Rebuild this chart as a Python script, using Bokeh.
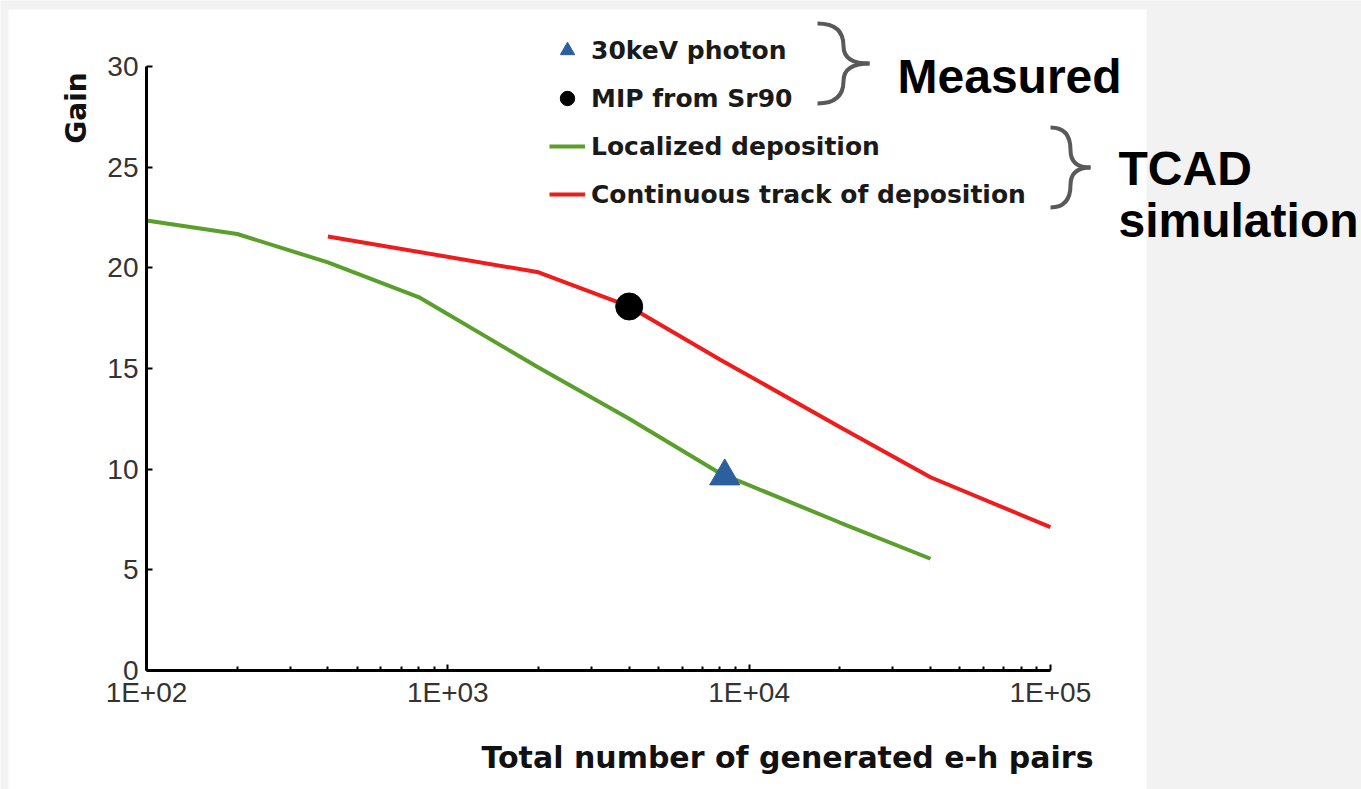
import math
from bokeh.plotting import figure
from bokeh.models import Range1d, FixedTicker, Legend, LegendItem
from bokeh.embed import file_html
from bokeh.resources import INLINE
from bokeh.core.properties import value

# ---------------- data ----------------
localized_pairs = [100, 200, 400, 800, 2000, 4000, 8000, 20000, 40000]
localized_gain = [22.35, 21.68, 20.27, 18.55, 15.05, 12.5, 9.8, 7.35, 5.55]
continuous_pairs = [400, 2000, 4000, 8000, 20000, 40000, 100000]
continuous_gain = [21.56, 19.78, 18.08, 15.45, 12.1, 9.6, 7.12]
photon_pairs = [8300]
photon_gain = [9.65]
mip_pairs = [4000]
mip_gain = [18.08]

x_ticks = [100, 1000, 10000, 100000]
x_tick_labels = ["1E+02", "1E+03", "1E+04", "1E+05"]
x_minor_ticks = [m * d for d in (100, 1000, 10000) for m in range(2, 10)]
y_ticks = [0, 5, 10, 15, 20, 25, 30]
y_tick_labels = ["0", "5", "10", "15", "20", "25", "30"]

series_labels = ["30keV photon", "MIP from Sr90", "Localized deposition",
                 "Continuous track of deposition"]
group_labels = ["Measured", "TCAD", "simulation"]
x_title = "Total number of generated e-h pairs"
y_title = "Gain"

# ---------------- layout (pixels) ----------------
W, H = 1361, 789
AX_L = 146             # canvas x of x=1E+02
AX_B = 670             # canvas y of gain=0
DEC = 301.3            # px per decade
UNIT = 20.133          # px per gain unit


def px2x(px):
    return 10 ** (2 + (px - AX_L) / DEC)


def py2y(py):
    return (AX_B - py) / UNIT


p = figure(width=W, height=H, x_axis_type="log",
           x_range=Range1d(px2x(0), px2x(W)), y_range=Range1d(py2y(H), py2y(0)),
           output_backend="svg", toolbar_location=None,
           min_border_left=0, min_border_bottom=0,
           min_border_top=0, min_border_right=0,
           border_fill_color="#f2f2f2", background_fill_color="#f2f2f2",
           outline_line_color=None)
p.grid.visible = False

# white panel
p.quad(left=[px2x(8)], right=[px2x(1146)], top=[py2y(9)], bottom=[py2y(H)],
       fill_color="white", line_color=None, level="underlay")

# axes
xa = p.xaxis[0]
xa.ticker = FixedTicker(ticks=x_ticks, minor_ticks=x_minor_ticks)
xa.major_label_overrides = {t: l for t, l in zip(x_ticks, x_tick_labels)}
xa.bounds = (x_ticks[0], x_ticks[-1])
xa.fixed_location = y_ticks[0]
ya = p.yaxis[0]
ya.ticker = FixedTicker(ticks=y_ticks)
ya.major_label_overrides = {t: l for t, l in zip(y_ticks, y_tick_labels)}
ya.bounds = (y_ticks[0], y_ticks[-1])
ya.fixed_location = x_ticks[0]
for ax in (xa, ya):
    ax.axis_line_width = 3
    ax.axis_line_color = "black"
    ax.major_tick_line_color = "black"
    ax.major_tick_line_width = 2
    ax.major_tick_out = 0
    ax.major_tick_in = 6
    ax.minor_tick_out = 0
    ax.minor_tick_in = 4
    ax.minor_tick_line_width = 2
    ax.minor_tick_line_color = "black"
    ax.major_label_text_font = "Liberation Sans"
    ax.major_label_text_font_size = "28px"
    ax.major_label_text_color = "#333333"
ya.minor_tick_line_color = None
ya.major_label_standoff = 8
xa.major_label_standoff = 6

# series
green = p.line(localized_pairs, localized_gain, line_color="#5a9f2c", line_width=4)
red = p.line(continuous_pairs, continuous_gain, line_color="#ee1c1c", line_width=4)
tri = p.scatter(photon_pairs, photon_gain, marker="triangle", size=30,
                fill_color="#2c5f9e", line_color="#2c5f9e")
dot = p.scatter(mip_pairs, mip_gain, marker="circle", size=27,
                fill_color="black", line_color="black")

legend = Legend(items=[LegendItem(label=series_labels[0], renderers=[tri]),
                       LegendItem(label=series_labels[1], renderers=[dot]),
                       LegendItem(label=series_labels[2], renderers=[green]),
                       LegendItem(label=series_labels[3], renderers=[red])],
                location=(549, H - 218),
                glyph_width=36, glyph_height=48, label_height=48,
                spacing=0, padding=0, margin=0, label_standoff=6,
                border_line_color=None, background_fill_alpha=0,
                label_text_font="DejaVu Sans", label_text_font_style="bold",
                label_text_font_size="25px", label_text_color="#1a1a1a")
p.add_layout(legend)


# braces
def brace(L, R, T, B):
    xm = L + 0.5 * (R - L)
    h = B - T
    M = T + h / 2
    segs = [((L, T), (xm, T), (xm, T + 0.28 * h)),
            ((xm, T + 0.28 * h), (xm, M), (R, M)),
            ((R, M), (xm, M), (xm, B - 0.28 * h)),
            ((xm, B - 0.28 * h), (xm, B), (L, B))]
    return dict(x0=[px2x(s[0][0]) for s in segs], y0=[py2y(s[0][1]) for s in segs],
                cx=[px2x(s[1][0]) for s in segs], cy=[py2y(s[1][1]) for s in segs],
                x1=[px2x(s[2][0]) for s in segs], y1=[py2y(s[2][1]) for s in segs])


for b in (brace(817, 869, 23, 103), brace(1050, 1090, 127, 207)):
    p.quadratic(x0=b["x0"], y0=b["y0"], x1=b["x1"], y1=b["y1"],
                cx=b["cx"], cy=b["cy"], line_color="#595959", line_width=4)

# group labels
p.text(x=[px2x(897), px2x(1118), px2x(1118)],
       y=[py2y(76), py2y(168), py2y(220)], text=group_labels,
       text_font=value("Liberation Sans"), text_font_style="bold",
       text_font_size="48px", text_color="black",
       text_align="left", text_baseline="alphabetic")

# axis titles
p.text(x=[px2x(76)], y=[py2y(107.5)], text=[y_title], angle=math.pi / 2,
       text_align="center", text_baseline="alphabetic",
       text_font=value("DejaVu Sans"), text_font_style="bold",
       text_font_size="28px", text_color="#111111")
p.text(x=[px2x(787)], y=[py2y(757)], text=[x_title],
       text_align="center", text_baseline="alphabetic",
       text_font=value("DejaVu Sans"), text_font_style="bold",
       text_font_size="30px", text_color="#111111")

open("out.html", "w").write(file_html(p, INLINE))
